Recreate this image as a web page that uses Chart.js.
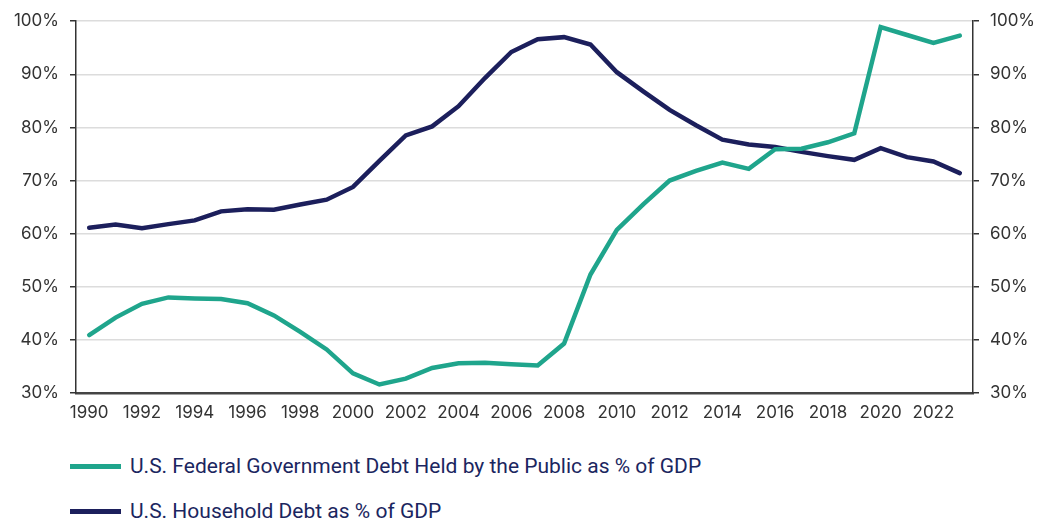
<!DOCTYPE html>
<html>
<head>
<meta charset="utf-8">
<script src="https://cdn.jsdelivr.net/npm/chart.js@4/dist/chart.umd.min.js"></script>
<style>
  body { margin: 0; background: #fff; width: 1044px; height: 521px; overflow: hidden; position: relative; }
  #wrap { position: absolute; left: 0; top: 0; width: 1044px; height: 430px; }
  .legend-row { position: absolute; left: 70px; height: 24px; display: flex; align-items: center;
    font-family: 'Liberation Sans Narrow', 'Roboto', sans-serif; font-size: 21px; color: #1b2660; }
  .legend-row .swatch { width: 51px; height: 5px; margin-right: 9px; }
</style>
</head>
<body>
<div id="wrap"><canvas id="chart" width="1044" height="430"></canvas></div>
<div class="legend-row" style="top:454px"><span class="swatch" style="background:#1fa58c"></span><span id="lg1"></span></div>
<div class="legend-row" style="top:499px"><span class="swatch" style="background:#1c1f5c"></span><span id="lg2"></span></div>
<script>
// 데이터
var years = [1990, 1991, 1992, 1993, 1994, 1995, 1996, 1997, 1998, 1999,
  2000, 2001, 2002, 2003, 2004, 2005, 2006, 2007, 2008, 2009,
  2010, 2011, 2012, 2013, 2014, 2015, 2016, 2017, 2018, 2019,
  2020, 2021, 2022, 2023];

var federalDebt = [40.9, 44.2, 46.8, 48.0, 47.8, 47.7, 46.9, 44.6, 41.5, 38.2,
  33.7, 31.6, 32.7, 34.7, 35.6, 35.7, 35.4, 35.2, 39.3, 52.3,
  60.7, 65.5, 70.0, 71.8, 73.4, 72.2, 75.9, 76.0, 77.2, 78.9,
  98.9, 97.4, 95.9, 97.3];

var householdDebt = [61.1, 61.7, 61.0, 61.8, 62.5, 64.2, 64.6, 64.5, 65.5, 66.4,
  68.8, 73.7, 78.5, 80.2, 84.0, 89.3, 94.2, 96.6, 97.0, 95.6,
  90.4, 86.8, 83.3, 80.4, 77.7, 76.8, 76.3, 75.4, 74.6, 73.9,
  76.1, 74.4, 73.6, 71.4];

var yTicks = [30, 40, 50, 60, 70, 80, 90, 100];

var seriesNames = [
  'U.S. Federal Government Debt Held by the Public as % of GDP',
  'U.S. Household Debt as % of GDP'
];
var seriesColors = ['#1fa58c', '#1c1f5c'];

document.getElementById('lg1').textContent = seriesNames[0];
document.getElementById('lg2').textContent = seriesNames[1];

var tickFont = { family: "'Inter', sans-serif", size: 17 };
var tickColor = '#333333';

function yAxis(pos, width, grid) {
  return {
    position: pos,
    min: 30,
    max: 100,
    afterBuildTicks: function(axis) {
      axis.ticks = yTicks.map(function(v) { return { value: v }; });
    },
    afterFit: function(scale) { scale.width = width; },
    border: { display: true, color: '#333', width: 1.5 },
    grid: {
      drawOnChartArea: grid,
      color: '#dcdcdc',
      lineWidth: 1.5,
      tickLength: 6,
      tickColor: '#333',
      tickWidth: 1.5
    },
    ticks: {
      font: tickFont,
      color: tickColor,
      padding: 11,
      callback: function(v) { return v + '%'; }
    }
  };
}

var ctx = document.getElementById('chart').getContext('2d');
var chart = new Chart(ctx, {
  type: 'line',
  data: {
    labels: years,
    datasets: [
      { label: seriesNames[0], data: federalDebt, borderColor: seriesColors[0], yAxisID: 'y' },
      { label: seriesNames[1], data: householdDebt, borderColor: seriesColors[1], yAxisID: 'y' }
    ].map(function(ds) {
      ds.borderWidth = 4.5;
      ds.pointRadius = 0;
      ds.tension = 0;
      ds.borderCapStyle = 'round';
      ds.fill = false;
      return ds;
    })
  },
  options: {
    animation: false,
    responsive: false,
    devicePixelRatio: 1,
    layout: { padding: { top: 20, right: 0, left: 0, bottom: 0 } },
    plugins: { legend: { display: false }, tooltip: { enabled: false } },
    scales: {
      x: {
        offset: true,
        afterFit: function(scale) { scale.height = 37; },
        border: { display: true, color: '#444', width: 2.5 },
        grid: { display: false, drawTicks: false },
        ticks: {
          font: tickFont,
          color: tickColor,
          padding: 10,
          autoSkip: false,
          maxRotation: 0,
          callback: function(value, index) {
            return index % 2 === 0 ? this.getLabelForValue(value) : '';
          }
        }
      },
      y: yAxis('left', 76, true),
      y2: yAxis('right', 71, false)
    }
  }
});
</script>
</body>
</html>
